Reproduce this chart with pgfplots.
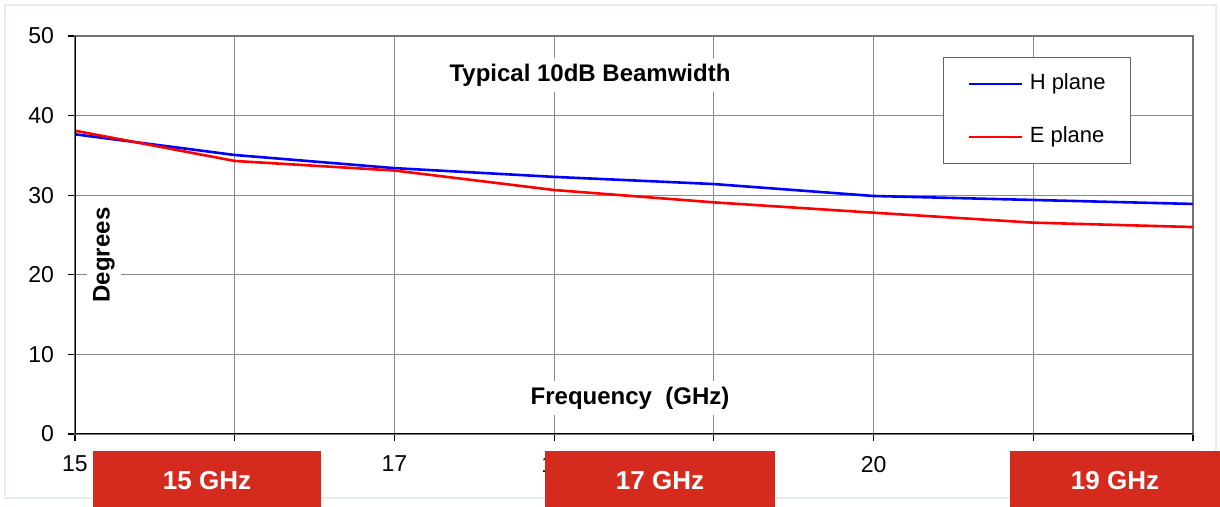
\documentclass[border=0pt]{standalone}
\usepackage{fontspec}
\setmainfont{Liberation Sans}
\usepackage{pgfplots}
\pgfplotsset{compat=1.18}
\definecolor{boxred}{HTML}{D52B1E}
\definecolor{framegreen}{HTML}{E6EFE6}
\definecolor{gridgray}{HTML}{8A8A8A}
\begin{document}
\begin{tikzpicture}
\useasboundingbox (0,0) rectangle (610pt,253.5pt);
\fill[white] (0,0) rectangle (610pt,253.5pt);
\draw[framegreen, line width=1pt] (2.5pt,4.5pt) rectangle (608pt,251pt);
\begin{axis}[
  at={(37.5pt,36.5pt)}, anchor=south west,
  scale only axis, width=559pt, height=199pt,
  xmin=15, xmax=22, ymin=0, ymax=50,
  xtick={15,16,...,22}, ytick={0,10,...,50},
  xticklabels={15,,17,18,,20,,},
  grid=major,
  major grid style={draw=gridgray, line width=0.6pt},
  axis line style={draw=gray!90!black, line width=1.2pt},
  tick align=outside, xtick pos=left, ytick pos=left,
  major tick length=3.5pt,
  tick style={draw=black, line width=0.6pt},
  /pgf/number format/assume math mode=true,
  tick label style={font=\fontsize{11.5}{13}\selectfont},
  xticklabel style={yshift=-4pt},
  yticklabel style={xshift=-3.5pt},
  legend style={at={(0.776,0.947)}, anchor=north west,
    draw=gray!80!black, line width=0.6pt,
    font=\fontsize{11}{13}\selectfont,
    inner xsep=12.5pt, inner ysep=8pt, row sep=16pt,
    nodes={inner sep=0pt, text height=8pt, text depth=2.5pt}},
  legend cell align=left,
  legend image code/.code={\draw[#1] (0pt,0pt) -- (26.5pt,0pt); \path (29.5pt,0pt);},
]
\addplot[blue, line width=1.3pt] coordinates {
  (15,37.65) (16,35.05) (17,33.4) (18,32.3) (19,31.4) (20,29.9) (21,29.4) (22,28.9)};
\addlegendentry{H plane}
\addplot[red, line width=1.3pt] coordinates {
  (15,38.1) (16,34.3) (17,33.1) (18,30.65) (19,29.1) (20,27.8) (21,26.55) (22,26.0)};
\addlegendentry{E plane}
\draw[black, line width=1pt] (rel axis cs:0,1) -- (rel axis cs:0,0) -- (rel axis cs:1,0);
\end{axis}
\node[fill=white, inner sep=3pt, font=\fontsize{12}{14}\selectfont\bfseries] at (295pt,216pt) {Typical 10dB Beamwidth};
\node[fill=white, inner sep=3pt, font=\fontsize{12}{14}\selectfont\bfseries] at (315pt,54.5pt) {Frequency\ \ (GHz)};
\node[fill=white, inner sep=3pt, rotate=90, font=\fontsize{12}{14}\selectfont\bfseries] at (52pt,126pt) {Degrees};
\fill[boxred] (46.5pt,0pt) rectangle (160.5pt,28pt);
\fill[boxred] (272.5pt,0pt) rectangle (387.5pt,28pt);
\fill[boxred] (505pt,0pt) rectangle (610pt,28pt);
\node[white, font=\fontsize{13}{15}\selectfont\bfseries] at (103.5pt,13pt) {15 GHz};
\node[white, font=\fontsize{13}{15}\selectfont\bfseries] at (330pt,13pt) {17 GHz};
\node[white, font=\fontsize{13}{15}\selectfont\bfseries] at (557.5pt,13pt) {19 GHz};
\end{tikzpicture}
\end{document}
